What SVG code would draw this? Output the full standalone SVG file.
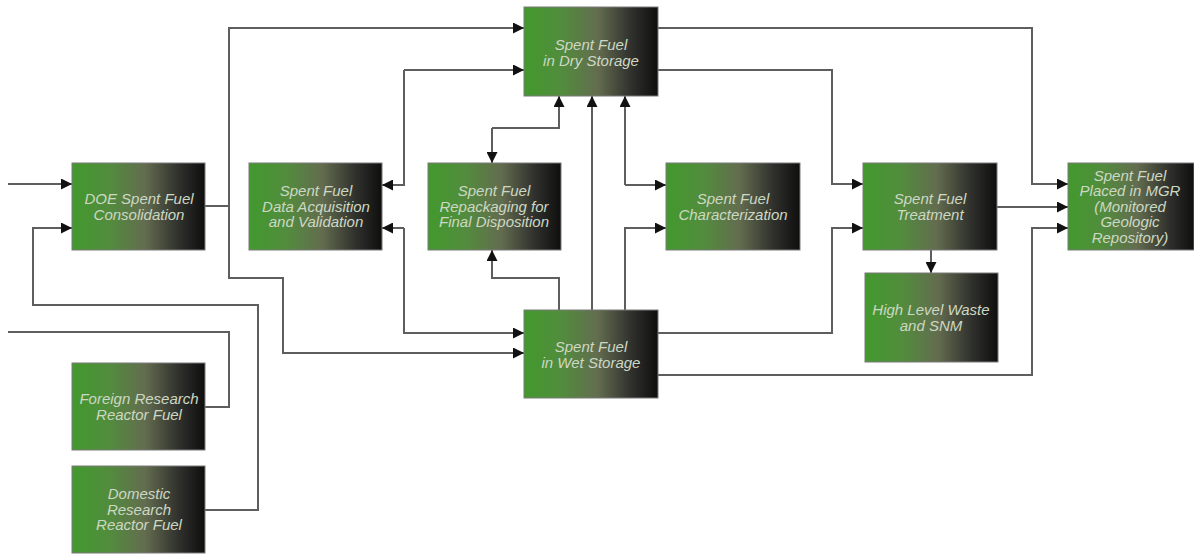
<svg xmlns="http://www.w3.org/2000/svg" width="1194" height="557" viewBox="0 0 1194 557">
  <defs>
    <linearGradient id="boxFill" x1="0" y1="0" x2="1" y2="0">
      <stop offset="0" stop-color="#42992d"/>
      <stop offset="0.28" stop-color="#528c3d"/>
      <stop offset="0.55" stop-color="#636c4f"/>
      <stop offset="0.8" stop-color="#30312d"/>
      <stop offset="1" stop-color="#0e0e0e"/>
    </linearGradient>
    <marker id="arrow" viewBox="0 0 10 10" refX="10" refY="5" markerWidth="11" markerHeight="11" markerUnits="userSpaceOnUse" orient="auto">
      <path d="M0,0 L10,5 L0,10 Z" fill="#111"/>
    </marker>
  </defs>
  <style>
    .box { fill: url(#boxFill); stroke: #7a7a7a; stroke-width: 1; }
    .label { font-family: "Liberation Sans", Arial, sans-serif; font-size: 15px; font-style: italic; fill: #cdd8c4; text-anchor: middle; }
    .wire { fill: none; stroke: #5e5e5e; stroke-width: 2; }
    .arr { marker-end: url(#arrow); }
  </style>
  <rect width="1194" height="557" fill="#ffffff"/>

  <g id="connectors">
    <!-- feed into consolidation -->
    <path class="wire arr" d="M8,184 H72"/>
    <path class="wire arr" d="M205,510 H258 V305 H33 V228 H72"/>
    <path class="wire" d="M205,407 H229 V332 H8"/>
    <!-- consolidation out to dry and wet storage -->
    <path class="wire" d="M205,206 H229"/>
    <path class="wire arr" d="M229,206 V28 H524"/>
    <path class="wire arr" d="M229,206 V278 H283 V353 H524"/>
    <!-- data acquisition links -->
    <path class="wire arr" d="M404,70 H524"/>
    <path class="wire arr" d="M404,70 V185 H382"/>
    <path class="wire arr" d="M404,228 H382"/>
    <path class="wire arr" d="M404,228 V333 H524"/>
    <!-- repackaging links -->
    <path class="wire arr" d="M492,128 H559 V96"/>
    <path class="wire arr" d="M492,128 V163"/>
    <path class="wire arr" d="M559,310 V278 H492 V250"/>
    <!-- wet to dry -->
    <path class="wire arr" d="M592,310 V96"/>
    <!-- characterization links -->
    <path class="wire arr" d="M625,185 V96"/>
    <path class="wire arr" d="M625,185 H666"/>
    <path class="wire arr" d="M625,310 V228 H666"/>
    <!-- storage to treatment and MGR -->
    <path class="wire arr" d="M658,28 H1032 V184 H1068"/>
    <path class="wire arr" d="M658,70 H832 V184 H863"/>
    <path class="wire arr" d="M658,333 H832 V228 H863"/>
    <path class="wire arr" d="M658,375 H1032 V228 H1068"/>
    <path class="wire arr" d="M997,207 H1068"/>
    <path class="wire arr" d="M931,250 V273"/>
  </g>

  <g id="doe-consolidation">
    <rect class="box" x="72" y="163" width="133" height="87"/>
    <text class="label" x="139" y="204">DOE Spent Fuel</text>
    <text class="label" x="139" y="219.5">Consolidation</text>
  </g>

  <g id="data-acquisition">
    <rect class="box" x="249" y="163" width="133" height="87"/>
    <text class="label" x="316" y="196">Spent Fuel</text>
    <text class="label" x="316" y="211.5">Data Acquisition</text>
    <text class="label" x="316" y="227">and Validation</text>
  </g>

  <g id="repackaging">
    <rect class="box" x="428" y="163" width="133" height="87"/>
    <text class="label" x="494" y="196">Spent Fuel</text>
    <text class="label" x="494" y="211.5">Repackaging for</text>
    <text class="label" x="494" y="227">Final Disposition</text>
  </g>

  <g id="characterization">
    <rect class="box" x="666" y="163" width="134" height="87"/>
    <text class="label" x="733" y="204">Spent Fuel</text>
    <text class="label" x="733" y="219.5">Characterization</text>
  </g>

  <g id="treatment">
    <rect class="box" x="863" y="163" width="134" height="87"/>
    <text class="label" x="930" y="204">Spent Fuel</text>
    <text class="label" x="930" y="219.5">Treatment</text>
  </g>

  <g id="mgr">
    <rect class="box" x="1068" y="163" width="126" height="87"/>
    <text class="label" x="1130" y="180.5">Spent Fuel</text>
    <text class="label" x="1130" y="196">Placed in MGR</text>
    <text class="label" x="1130" y="211.5">(Monitored</text>
    <text class="label" x="1130" y="227">Geologic</text>
    <text class="label" x="1130" y="242.5">Repository)</text>
  </g>

  <g id="dry-storage">
    <rect class="box" x="524" y="7" width="134" height="89"/>
    <text class="label" x="591" y="50">Spent Fuel</text>
    <text class="label" x="591" y="65.5">in Dry Storage</text>
  </g>

  <g id="wet-storage">
    <rect class="box" x="524" y="310" width="134" height="88"/>
    <text class="label" x="591" y="352">Spent Fuel</text>
    <text class="label" x="591" y="367.5">in Wet Storage</text>
  </g>

  <g id="high-level-waste">
    <rect class="box" x="865" y="273" width="133" height="89"/>
    <text class="label" x="931" y="315">High Level Waste</text>
    <text class="label" x="931" y="330.5">and SNM</text>
  </g>

  <g id="foreign-research">
    <rect class="box" x="72" y="363" width="133" height="87"/>
    <text class="label" x="139" y="404">Foreign Research</text>
    <text class="label" x="139" y="419.5">Reactor Fuel</text>
  </g>

  <g id="domestic-research">
    <rect class="box" x="72" y="466" width="133" height="87"/>
    <text class="label" x="139" y="499">Domestic</text>
    <text class="label" x="139" y="514.5">Research</text>
    <text class="label" x="139" y="530">Reactor Fuel</text>
  </g>
</svg>
